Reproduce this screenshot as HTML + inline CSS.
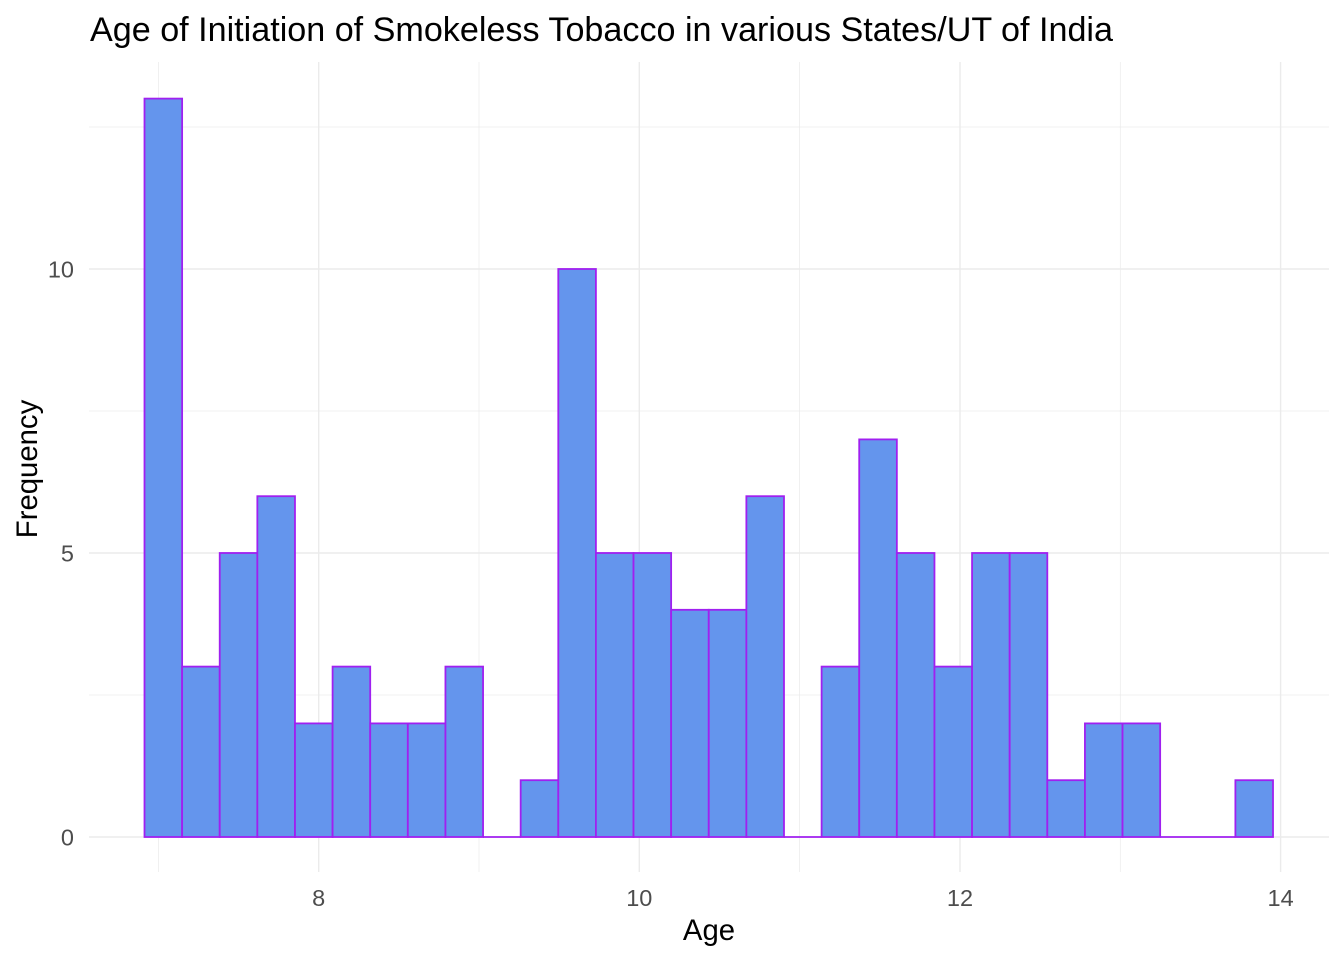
<!DOCTYPE html>
<html>
<head>
<meta charset="utf-8">
<style>
html,body{margin:0;padding:0;background:#fff;}
svg{display:block;}
text{font-family:"Liberation Sans",Arial,sans-serif;}
</style>
</head>
<body>
<svg width="1344" height="960" viewBox="0 0 1344 960" xmlns="http://www.w3.org/2000/svg">
<rect x="0" y="0" width="1344" height="960" fill="#fff"/>
<!-- minor grid -->
<g stroke="#EBEBEB" stroke-width="0.75" fill="none">
<line x1="89" x2="1329" y1="695" y2="695"/>
<line x1="89" x2="1329" y1="411" y2="411"/>
<line x1="89" x2="1329" y1="127" y2="127"/>
<line x1="158.4" x2="158.4" y1="62" y2="872"/>
<line x1="479" x2="479" y1="62" y2="872"/>
<line x1="799.6" x2="799.6" y1="62" y2="872"/>
<line x1="1120.3" x2="1120.3" y1="62" y2="872"/>
</g>
<!-- major grid -->
<g stroke="#EBEBEB" stroke-width="1.4" fill="none">
<line x1="89" x2="1329" y1="837" y2="837"/>
<line x1="89" x2="1329" y1="553" y2="553"/>
<line x1="89" x2="1329" y1="269" y2="269"/>
<line x1="318.7" x2="318.7" y1="62" y2="872"/>
<line x1="639.3" x2="639.3" y1="62" y2="872"/>
<line x1="960" x2="960" y1="62" y2="872"/>
<line x1="1280.6" x2="1280.6" y1="62" y2="872"/>
</g>
<!-- bars -->
<g fill="#6495ED" stroke="#A020F0" stroke-width="1.8">
<rect x="144.5" y="98.6" width="37.62" height="738.4"/>
<rect x="182.12" y="666.6" width="37.62" height="170.4"/>
<rect x="219.73" y="553" width="37.62" height="284"/>
<rect x="257.35" y="496.2" width="37.62" height="340.8"/>
<rect x="294.97" y="723.4" width="37.62" height="113.6"/>
<rect x="332.59" y="666.6" width="37.62" height="170.4"/>
<rect x="370.20" y="723.4" width="37.62" height="113.6"/>
<rect x="407.82" y="723.4" width="37.62" height="113.6"/>
<rect x="445.44" y="666.6" width="37.62" height="170.4"/>
<line x1="483.05" x2="520.67" y1="837" y2="837"/>
<rect x="520.67" y="780.2" width="37.62" height="56.8"/>
<rect x="558.29" y="269" width="37.62" height="568"/>
<rect x="595.90" y="553" width="37.62" height="284"/>
<rect x="633.52" y="553" width="37.62" height="284"/>
<rect x="671.14" y="609.8" width="37.62" height="227.2"/>
<rect x="708.76" y="609.8" width="37.62" height="227.2"/>
<rect x="746.37" y="496.2" width="37.62" height="340.8"/>
<line x1="783.99" x2="821.61" y1="837" y2="837"/>
<rect x="821.61" y="666.6" width="37.62" height="170.4"/>
<rect x="859.22" y="439.4" width="37.62" height="397.6"/>
<rect x="896.84" y="553" width="37.62" height="284"/>
<rect x="934.46" y="666.6" width="37.62" height="170.4"/>
<rect x="972.07" y="553" width="37.62" height="284"/>
<rect x="1009.69" y="553" width="37.62" height="284"/>
<rect x="1047.31" y="780.2" width="37.62" height="56.8"/>
<rect x="1084.93" y="723.4" width="37.62" height="113.6"/>
<rect x="1122.54" y="723.4" width="37.62" height="113.6"/>
<line x1="1160.16" x2="1235.39" y1="837" y2="837"/>
<rect x="1235.39" y="780.2" width="37.62" height="56.8"/>
</g>
<!-- y tick labels -->
<g fill="#4D4D4D" font-size="23.5" text-anchor="end">
<text x="74" y="845.5">0</text>
<text x="74" y="561.5">5</text>
<text x="74" y="277.5">10</text>
</g>
<!-- x tick labels -->
<g fill="#4D4D4D" font-size="23.5" text-anchor="middle">
<text x="318.7" y="906">8</text>
<text x="639.3" y="906">10</text>
<text x="960" y="906">12</text>
<text x="1280.6" y="906">14</text>
</g>
<!-- axis titles -->
<text x="709" y="940" font-size="29.3" text-anchor="middle" fill="#000">Age</text>
<text transform="translate(37,469) rotate(-90)" font-size="29.3" text-anchor="middle" fill="#000">Frequency</text>
<!-- title -->
<text x="90" y="41" font-size="34.2" textLength="1023" lengthAdjust="spacingAndGlyphs" fill="#000">Age of Initiation of Smokeless Tobacco in various States/UT of India</text>
</svg>
</body>
</html>
